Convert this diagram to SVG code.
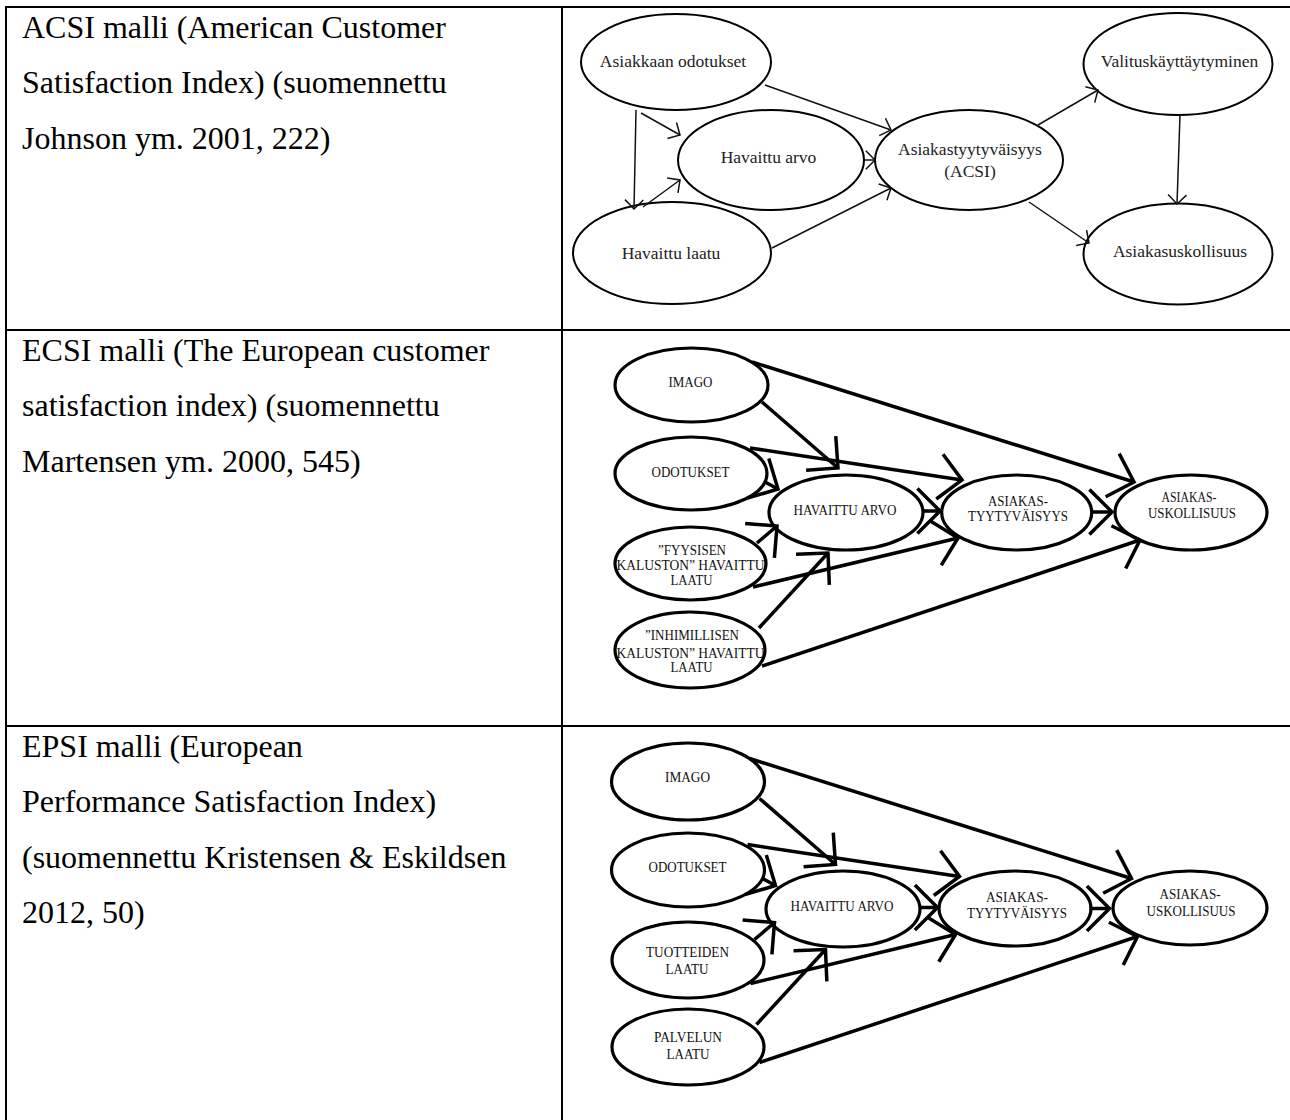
<svg xmlns="http://www.w3.org/2000/svg" width="1290" height="1120" viewBox="0 0 1290 1120">
<style>
.grid{stroke:#000;stroke-width:2;fill:none}
.cap{font-family:"Liberation Serif","Times New Roman",serif;font-size:32px;fill:#000}
.n1{fill:#fff;stroke:#000;stroke-width:2}
.t1{font-family:"Liberation Serif","Times New Roman",serif;font-size:17.5px;text-anchor:middle;fill:#222}
.c1{stroke:#111;stroke-width:1.5;fill:none;marker-end:url(#a1)}
.n2{fill:#fff;stroke:#000;stroke-width:3.2}
.t2{font-family:"Liberation Serif","Times New Roman",serif;font-size:14.5px;text-anchor:middle;fill:#111}
.c2{stroke:#000;stroke-width:3.5;fill:none;marker-end:url(#a2)}
</style>
<defs>
<marker id="a1" markerUnits="userSpaceOnUse" orient="auto" markerWidth="30" markerHeight="30" viewBox="-15 -15 30 30" refX="0" refY="0" overflow="visible"><path d="M-9.2,-9.2 L0,0 L-9.2,9.2" fill="none" stroke="#111" stroke-width="1.5"/></marker>
<marker id="a2" markerUnits="userSpaceOnUse" orient="auto" markerWidth="60" markerHeight="60" viewBox="-30 -30 60 60" refX="0" refY="0" overflow="visible"><path d="M-22.6,-22.6 L0,0 L-22.6,22.6" fill="none" stroke="#000" stroke-width="3.5"/></marker>
</defs>
<rect width="1290" height="1120" fill="#fff"/>

<g id="table">
<line class="grid" x1="5" y1="7" x2="1290" y2="7"/>
<line class="grid" x1="5" y1="330" x2="1290" y2="330"/>
<line class="grid" x1="5" y1="726" x2="1290" y2="726"/>
<line class="grid" x1="6" y1="6" x2="6" y2="1120"/>
<line class="grid" x1="562" y1="6" x2="562" y2="1120"/>
</g>

<g id="captions">
<text class="cap" x="22" y="37.5">ACSI malli (American Customer</text>
<text class="cap" x="22" y="93">Satisfaction Index) (suomennettu</text>
<text class="cap" x="22" y="148.5">Johnson ym. 2001, 222)</text>
<text class="cap" x="22" y="360.5">ECSI malli (The European customer</text>
<text class="cap" x="22" y="416">satisfaction index) (suomennettu</text>
<text class="cap" x="22" y="471.5">Martensen ym. 2000, 545)</text>
<text class="cap" x="22" y="756.5">EPSI malli (European</text>
<text class="cap" x="22" y="812">Performance Satisfaction Index)</text>
<text class="cap" x="22" y="867.5">(suomennettu Kristensen &amp; Eskildsen</text>
<text class="cap" x="22" y="923">2012, 50)</text>
</g>

<!-- ACSI -->
<g id="acsi-odotukset"><ellipse class="n1" cx="676" cy="62" rx="95" ry="48"/><text class="t1" x="673" y="67">Asiakkaan odotukset</text></g>
<g id="acsi-arvo"><ellipse class="n1" cx="771" cy="160" rx="93" ry="50"/><text class="t1" x="768.5" y="163">Havaittu arvo</text></g>
<g id="acsi-laatu"><ellipse class="n1" cx="672" cy="253" rx="99" ry="51"/><text class="t1" x="671" y="258.5">Havaittu laatu</text></g>
<g id="acsi-tyytyvaisyys"><ellipse class="n1" cx="969" cy="160" rx="94" ry="50"/><text class="t1" x="970" y="155">Asiakastyytyväisyys</text><text class="t1" x="970" y="176.5">(ACSI)</text></g>
<g id="acsi-valitus"><ellipse class="n1" cx="1178" cy="64" rx="94.5" ry="51"/><text class="t1" x="1179.5" y="67">Valituskäyttäytyminen</text></g>
<g id="acsi-uskollisuus"><ellipse class="n1" cx="1178" cy="254" rx="94.5" ry="50.5"/><text class="t1" x="1180" y="257">Asiakasuskollisuus</text></g>

<g id="acsi-connectors">
<line class="c1" x1="765" y1="85" x2="891" y2="130"/>
<line class="c1" x1="641" y1="113" x2="680" y2="135"/>
<line class="c1" x1="636" y1="110" x2="634" y2="209"/>
<line class="c1" x1="643" y1="207" x2="680" y2="180"/>
<line class="c1" x1="864" y1="160" x2="875" y2="160"/>
<line class="c1" x1="772" y1="248" x2="891" y2="188"/>
<line class="c1" x1="1038" y1="125" x2="1098" y2="90"/>
<line class="c1" x1="1180" y1="115" x2="1177" y2="204"/>
<line class="c1" x1="1029" y1="202" x2="1089" y2="243"/>
</g>

<!-- ECSI -->
<g id="ecsi-imago"><ellipse class="n2" cx="691.5" cy="385" rx="76.5" ry="37"/><text class="t2" x="690.5" y="386.5" textLength="44" lengthAdjust="spacingAndGlyphs">IMAGO</text></g>
<g id="ecsi-odotukset"><ellipse class="n2" cx="691" cy="473.5" rx="76" ry="36.5"/><text class="t2" x="690.5" y="476.5" textLength="78" lengthAdjust="spacingAndGlyphs">ODOTUKSET</text></g>
<g id="ecsi-arvo"><ellipse class="n2" cx="846" cy="512.5" rx="77" ry="37.5"/><text class="t2" x="845" y="515" textLength="103" lengthAdjust="spacingAndGlyphs">HAVAITTU ARVO</text></g>
<g id="ecsi-fyysinen"><ellipse class="n2" cx="690.5" cy="563.5" rx="75.5" ry="36.5"/><text class="t2" x="692" y="555" textLength="68" lengthAdjust="spacingAndGlyphs">”FYYSISEN</text><text class="t2" x="690.5" y="570" textLength="148" lengthAdjust="spacingAndGlyphs">KALUSTON” HAVAITTU</text><text class="t2" x="691.5" y="585" textLength="42" lengthAdjust="spacingAndGlyphs">LAATU</text></g>
<g id="ecsi-inhimillinen"><ellipse class="n2" cx="690" cy="650" rx="75" ry="38"/><text class="t2" x="692" y="640" textLength="94" lengthAdjust="spacingAndGlyphs">”INHIMILLISEN</text><text class="t2" x="690.5" y="658" textLength="148" lengthAdjust="spacingAndGlyphs">KALUSTON” HAVAITTU</text><text class="t2" x="691.5" y="671.5" textLength="42" lengthAdjust="spacingAndGlyphs">LAATU</text></g>
<g id="ecsi-tyytyvaisyys"><ellipse class="n2" cx="1016.7" cy="512.5" rx="75" ry="37.5"/><text class="t2" x="1018" y="506" textLength="60" lengthAdjust="spacingAndGlyphs">ASIAKAS-</text><text class="t2" x="1018" y="521" textLength="100" lengthAdjust="spacingAndGlyphs">TYYTYVÄISYYS</text></g>
<g id="ecsi-uskollisuus"><ellipse class="n2" cx="1191" cy="512.5" rx="76" ry="37.5"/><text class="t2" x="1189" y="501.5" textLength="55" lengthAdjust="spacingAndGlyphs">ASIAKAS-</text><text class="t2" x="1192" y="518" textLength="88" lengthAdjust="spacingAndGlyphs">USKOLLISUUS</text></g>

<g id="ecsi-connectors">
<line class="c2" x1="752" y1="362" x2="1134" y2="482"/>
<line class="c2" x1="762" y1="402" x2="838" y2="468"/>
<line class="c2" x1="750" y1="448" x2="962" y2="480"/>
<line class="c2" x1="765" y1="482" x2="778" y2="489"/>
<line class="c2" x1="757" y1="543" x2="777" y2="526"/>
<line class="c2" x1="753" y1="587" x2="958" y2="538"/>
<line class="c2" x1="759" y1="628" x2="828" y2="553"/>
<line class="c2" x1="762" y1="666" x2="1140" y2="540"/>
<line class="c2" x1="923" y1="511" x2="940" y2="511"/>
<line class="c2" x1="1092" y1="512" x2="1112" y2="512"/>
</g>

<!-- EPSI -->
<g id="epsi-imago"><ellipse class="n2" cx="688" cy="781.5" rx="76.5" ry="38.5"/><text class="t2" x="687.5" y="782" textLength="45" lengthAdjust="spacingAndGlyphs">IMAGO</text></g>
<g id="epsi-odotukset"><ellipse class="n2" cx="688" cy="870" rx="76.5" ry="37"/><text class="t2" x="687.5" y="872" textLength="78" lengthAdjust="spacingAndGlyphs">ODOTUKSET</text></g>
<g id="epsi-arvo"><ellipse class="n2" cx="843" cy="909" rx="77" ry="38"/><text class="t2" x="842" y="911" textLength="103" lengthAdjust="spacingAndGlyphs">HAVAITTU ARVO</text></g>
<g id="epsi-tuotteet"><ellipse class="n2" cx="688" cy="960" rx="76" ry="38"/><text class="t2" x="687.5" y="956.5" textLength="83" lengthAdjust="spacingAndGlyphs">TUOTTEIDEN</text><text class="t2" x="687" y="974" textLength="43" lengthAdjust="spacingAndGlyphs">LAATU</text></g>
<g id="epsi-palvelu"><ellipse class="n2" cx="688" cy="1047" rx="76" ry="38"/><text class="t2" x="688" y="1041.5" textLength="68" lengthAdjust="spacingAndGlyphs">PALVELUN</text><text class="t2" x="688" y="1059" textLength="43" lengthAdjust="spacingAndGlyphs">LAATU</text></g>
<g id="epsi-tyytyvaisyys"><ellipse class="n2" cx="1015" cy="908.5" rx="76" ry="37.5"/><text class="t2" x="1017" y="901.5" textLength="62" lengthAdjust="spacingAndGlyphs">ASIAKAS-</text><text class="t2" x="1017" y="917.5" textLength="100" lengthAdjust="spacingAndGlyphs">TYYTYVÄISYYS</text></g>
<g id="epsi-uskollisuus"><ellipse class="n2" cx="1190" cy="908" rx="77" ry="37"/><text class="t2" x="1190" y="898.5" textLength="61" lengthAdjust="spacingAndGlyphs">ASIAKAS-</text><text class="t2" x="1191" y="915.5" textLength="89" lengthAdjust="spacingAndGlyphs">USKOLLISUUS</text></g>

<g id="epsi-connectors" transform="translate(-2.5,396.5)">
<line class="c2" x1="752" y1="362" x2="1134" y2="482"/>
<line class="c2" x1="762" y1="402" x2="838" y2="468"/>
<line class="c2" x1="750" y1="448" x2="962" y2="480"/>
<line class="c2" x1="765" y1="482" x2="778" y2="489"/>
<line class="c2" x1="757" y1="543" x2="777" y2="526"/>
<line class="c2" x1="753" y1="587" x2="958" y2="538"/>
<line class="c2" x1="759" y1="628" x2="828" y2="553"/>
<line class="c2" x1="762" y1="666" x2="1140" y2="540"/>
<line class="c2" x1="923" y1="511" x2="940" y2="511"/>
<line class="c2" x1="1092" y1="512" x2="1112" y2="512"/>
</g>
</svg>
